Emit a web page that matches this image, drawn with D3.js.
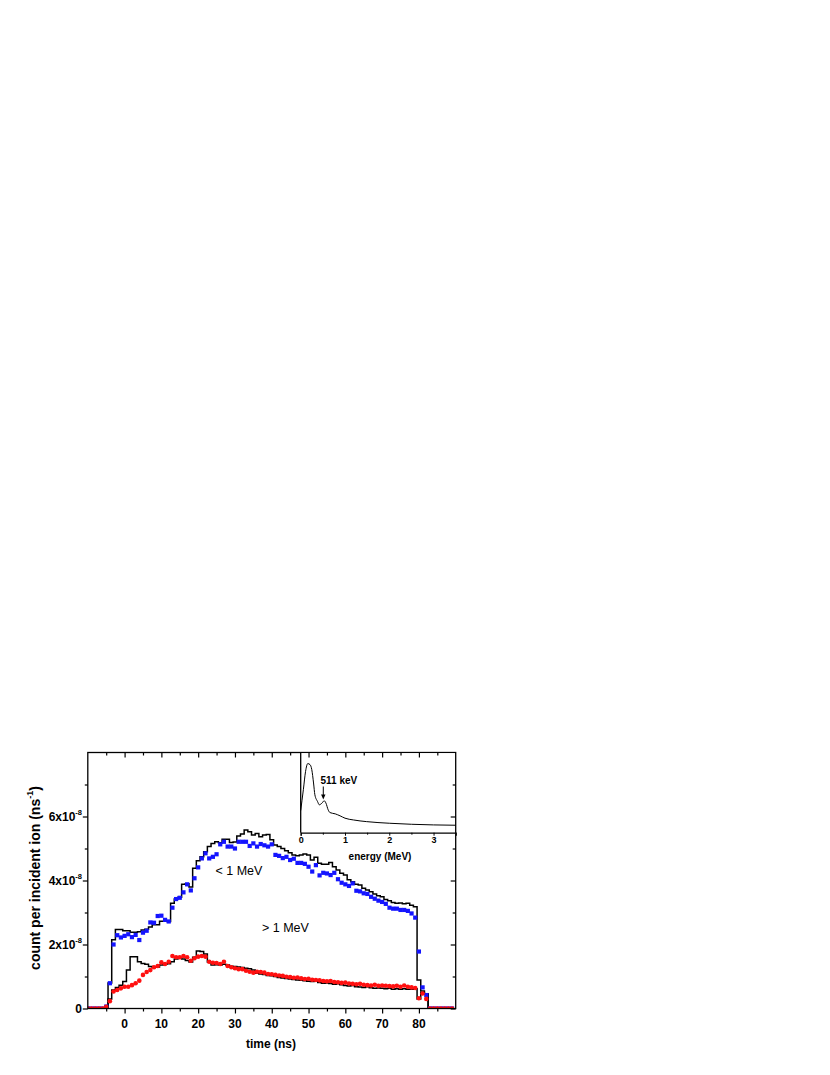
<!DOCTYPE html>
<html><head><meta charset="utf-8">
<script src="https://cdn.jsdelivr.net/npm/d3@7/dist/d3.min.js"></script>
<style>body{margin:0;background:#fff} text{font-family:Arial,"Liberation Sans",sans-serif}</style>
</head><body><svg id="c" width="830" height="1075"></svg>
<script>
// time bins (ns), bin centres
const time = [-10,-9,-8,-7,-6,-5,-4,-3,-2,-1,0,1,2,3,4,5,6,7,8,9,10,11,12,13,14,15,16,17,18,19,20,21,22,23,24,25,26,27,28,29,30,31,32,33,34,35,36,37,38,39,40,41,42,43,44,45,46,47,48,49,50,51,52,53,54,55,56,57,58,59,60,61,62,63,64,65,66,67,68,69,70,71,72,73,74,75,76,77,78,79,80,81,82,83,84,85,86,87,88,89];
// values in units of 1e-8 ns^-1
const measLow = [0,0,0,0,0,0.06,0.79,2.00,2.29,2.22,2.27,2.32,2.23,2.30,2.14,2.37,2.43,2.69,2.68,2.89,2.90,2.77,2.72,3.15,3.42,3.46,3.63,3.88,3.69,4.07,4.41,4.69,4.85,4.69,4.74,4.82,5.13,5.21,5.06,5.06,5.00,5.21,5.21,5.21,5.08,5.16,5.06,5.14,5.10,5.06,5.13,4.80,4.77,4.70,4.74,4.64,4.68,4.55,4.55,4.52,4.43,4.28,4.48,4.16,4.24,4.22,4.17,4.24,4.04,3.93,3.88,3.83,3.91,3.68,3.66,3.60,3.58,3.49,3.43,3.37,3.33,3.27,3.15,3.12,3.12,3.08,3.08,3.05,2.97,2.84,1.78,0.66,0.42,0,0,0,0,0,0,0];
const simLow = [0,0,0,0,0,0,0.80,2.15,2.47,2.47,2.43,2.43,2.38,2.38,2.40,2.45,2.48,2.55,2.62,2.62,2.73,2.73,2.72,3.29,3.42,3.48,3.88,3.90,3.80,4.38,4.62,4.74,4.90,5.06,5.16,5.21,5.18,5.29,5.29,5.19,5.20,5.39,5.45,5.58,5.52,5.42,5.47,5.37,5.42,5.44,5.27,5.11,5.06,5.00,4.93,4.87,4.80,4.77,4.80,4.83,4.80,4.64,4.73,4.54,4.51,4.51,4.56,4.43,4.33,4.23,4.17,4.02,3.96,3.88,3.86,3.76,3.70,3.65,3.58,3.52,3.49,3.41,3.37,3.31,3.29,3.30,3.27,3.29,3.23,3.18,0.89,0.55,0.45,0,0,0,0,0,0,0];
const measHigh = [0,0,0,0,0,0.05,0.23,0.53,0.58,0.63,0.68,0.68,0.73,0.79,0.87,1.05,1.14,1.20,1.29,1.33,1.44,1.39,1.46,1.64,1.60,1.60,1.64,1.60,1.49,1.57,1.62,1.64,1.62,1.46,1.43,1.42,1.39,1.46,1.33,1.29,1.26,1.23,1.23,1.18,1.15,1.12,1.15,1.14,1.12,1.08,1.07,1.05,1.03,1.02,0.99,0.98,0.96,0.97,0.94,0.92,0.93,0.90,0.89,0.88,0.86,0.85,0.86,0.83,0.82,0.80,0.81,0.78,0.77,0.76,0.77,0.74,0.73,0.72,0.74,0.71,0.72,0.71,0.70,0.69,0.71,0.68,0.72,0.68,0.66,0.64,0.32,0.47,0.30,0,0,0,0,0,0,0];
const simHigh = [0,0,0,0,0,0,0.30,0.58,0.66,0.73,0.84,1.20,1.62,1.62,1.46,1.41,1.38,1.31,1.29,1.30,1.36,1.38,1.40,1.46,1.55,1.58,1.55,1.50,1.45,1.60,1.80,1.78,1.70,1.45,1.36,1.37,1.36,1.38,1.36,1.32,1.31,1.30,1.28,1.26,1.24,1.20,1.10,1.08,1.06,1.03,1.02,1.00,0.97,0.95,0.94,0.92,0.91,0.89,0.88,0.87,0.85,0.84,0.85,0.81,0.79,0.80,0.78,0.76,0.77,0.74,0.72,0.70,0.72,0.68,0.67,0.66,0.68,0.65,0.63,0.64,0.63,0.62,0.63,0.60,0.62,0.60,0.62,0.60,0.60,0.62,0.30,0.50,0.45,0,0,0,0,0,0,0];
const xMajor = [0,10,20,30,40,50,60,70,80];
const xMinor = [-5,5,15,25,35,45,55,65,75,85];
const yMajor = [0,2,4,6];
const yMinor = [1,3,5,7];
// inset energy spectrum
const insetE = [0,0.06,0.11,0.16,0.21,0.25,0.29,0.32,0.38,0.42,0.48,0.53,0.57,0.62,0.66,0.78,0.89,1.0,1.19,1.49,2.0,2.5,3.0,3.5];
const insetC = [0.276,0.536,0.765,0.862,0.849,0.787,0.620,0.473,0.389,0.348,0.369,0.398,0.369,0.285,0.251,0.235,0.210,0.181,0.159,0.138,0.118,0.105,0.097,0.093];
const insetTicks = [0,1,2,3];
const insetMinor = [0.5,1.5,2.5];

const svg = d3.select('#c');
svg.append('rect').attr('width',830).attr('height',1075).attr('fill','#fff');
const L=87.8,R=455.7,T=752.5,B=1008.5;
const x = d3.scaleLinear().domain([-10,90]).range([L,R]);
const y = d3.scaleLinear().domain([0,8]).range([B,T]);

svg.append('defs').append('clipPath').attr('id','plot')
  .append('rect').attr('x',L).attr('y',T).attr('width',R-L).attr('height',B-T);

const pts = (arr)=> time.map((t,i)=>[t,arr[i]]);
const step = d3.line().x(d=>x(d[0])).y(d=>y(d[1])).curve(d3.curveStep);

const plot = svg.append('g').attr('clip-path','url(#plot)');
// histograms
[simLow, simHigh].forEach(a=>{
  plot.append('path').attr('d',step(pts(a))).attr('fill','none')
    .attr('stroke','#000').attr('stroke-width',1.5);
});
// markers
plot.append('g').selectAll('rect').data(pts(measLow)).join('rect')
  .attr('x',d=>x(d[0])-2.1).attr('y',d=>y(d[1])-2.1).attr('width',4.2).attr('height',4.2)
  .attr('fill','#1414ff');
plot.append('g').selectAll('circle').data(pts(measHigh)).join('circle')
  .attr('cx',d=>x(d[0])).attr('cy',d=>y(d[1])).attr('r',2.3).attr('fill','#ff1010');

// frame
svg.append('rect').attr('x',L).attr('y',T).attr('width',R-L).attr('height',B-T)
  .attr('fill','none').attr('stroke','#000').attr('stroke-width',1.3);

// inset
const ix = d3.scaleLinear().domain([0,3.5]).range([300.7,R]);
const iy = d3.scaleLinear().domain([0,1]).range([832.7,T]);
svg.append('rect').attr('x',300.7).attr('y',T+0.7).attr('width',R-300.7-0.7).attr('height',832.7-T-0.7).attr('fill','#fff');
svg.append('path').attr('d',d3.line().x((d,i)=>ix(insetE[i])).y((d,i)=>iy(insetC[i])).curve(d3.curveMonotoneX)(insetE))
  .attr('fill','none').attr('stroke','#000').attr('stroke-width',1);
svg.append('line').attr('x1',300.7).attr('x2',300.7).attr('y1',T).attr('y2',832.7).attr('stroke','#000').attr('stroke-width',1.3);
const ia = svg.append('g').attr('transform','translate(0,832.7)')
  .call(d3.axisBottom(ix).tickValues(insetTicks).tickSize(3).tickPadding(1).tickFormat(d3.format('d')));
ia.select('.domain').attr('stroke-width',1.3);
ia.selectAll('text').attr('font-size',9).attr('font-weight','bold').attr('font-family','Arial, Liberation Sans, sans-serif');
svg.append('g').attr('transform','translate(0,832.7)')
  .call(d3.axisBottom(ix).tickValues(insetMinor).tickSize(2).tickFormat('')).select('.domain').remove();
svg.append('text').attr('x',380).attr('y',860).attr('text-anchor','middle')
  .attr('font-size',10).attr('font-weight','bold').text('energy (MeV)');
svg.append('text').attr('x',320.5).attr('y',783.5).attr('font-size',10).attr('font-weight','bold').text('511 keV');
const ax = ix(0.51);
svg.append('line').attr('x1',ax).attr('x2',ax).attr('y1',786.5).attr('y2',796).attr('stroke','#000').attr('stroke-width',1);
svg.append('path').attr('d',`M${ax-2.2},${794.5}L${ax+2.2},${794.5}L${ax},${799.5}Z`).attr('fill','#000');

// axes ticks
function ticks(axisFn, scale, vals, size, tr){
  const g = svg.append('g').attr('transform',tr).call(axisFn(scale).tickValues(vals).tickSize(size).tickFormat(''));
  g.select('.domain').remove();
  g.selectAll('line').attr('stroke-width',1.2);
  return g;
}
ticks(d3.axisBottom, x, xMajor, 5, `translate(0,${B})`);
ticks(d3.axisBottom, x, xMinor, 3, `translate(0,${B})`);
ticks(d3.axisTop, x, xMajor, -5, `translate(0,${T})`);
ticks(d3.axisTop, x, xMinor, -3, `translate(0,${T})`);
ticks(d3.axisLeft, y, yMajor, 5, `translate(${L},0)`);
ticks(d3.axisLeft, y, yMinor, 3, `translate(${L},0)`);
ticks(d3.axisRight, y, yMajor, -5, `translate(${R},0)`);
ticks(d3.axisRight, y, yMinor, -3, `translate(${R},0)`);

// tick labels
svg.append('g').selectAll('text').data(xMajor).join('text')
  .attr('x',d=>x(d)).attr('y',1027.5).attr('text-anchor','middle')
  .attr('font-size',12).attr('font-weight','bold').text(d=>d);
const yl = svg.append('g').selectAll('text').data(yMajor).join('text')
  .attr('x',82).attr('y',d=>y(d)+4.3).attr('text-anchor','end')
  .attr('font-size',12).attr('font-weight','bold');
yl.each(function(d){
  const t = d3.select(this);
  if(d===0){ t.text('0'); return; }
  t.append('tspan').text(d+'x10');
  t.append('tspan').attr('font-size',7.5).attr('dy',-6).text('-8');
});

// axis titles
svg.append('text').attr('x',271).attr('y',1047.5).attr('text-anchor','middle')
  .attr('font-size',12).attr('font-weight','bold').text('time (ns)');
const yt = svg.append('text').attr('transform','translate(40,878) rotate(-90)').attr('text-anchor','middle')
  .attr('font-size',14).attr('font-weight','bold');
yt.append('tspan').text('count per incident ion (ns');
yt.append('tspan').attr('font-size',9).attr('dy',-7).text('-1');
yt.append('tspan').attr('dy',7).text(')');

// series labels
svg.append('text').attr('x',215.5).attr('y',874.5).attr('font-size',12.5).text('< 1 MeV');
svg.append('text').attr('x',262).attr('y',932).attr('font-size',12.5).text('> 1 MeV');
</script></body></html>
